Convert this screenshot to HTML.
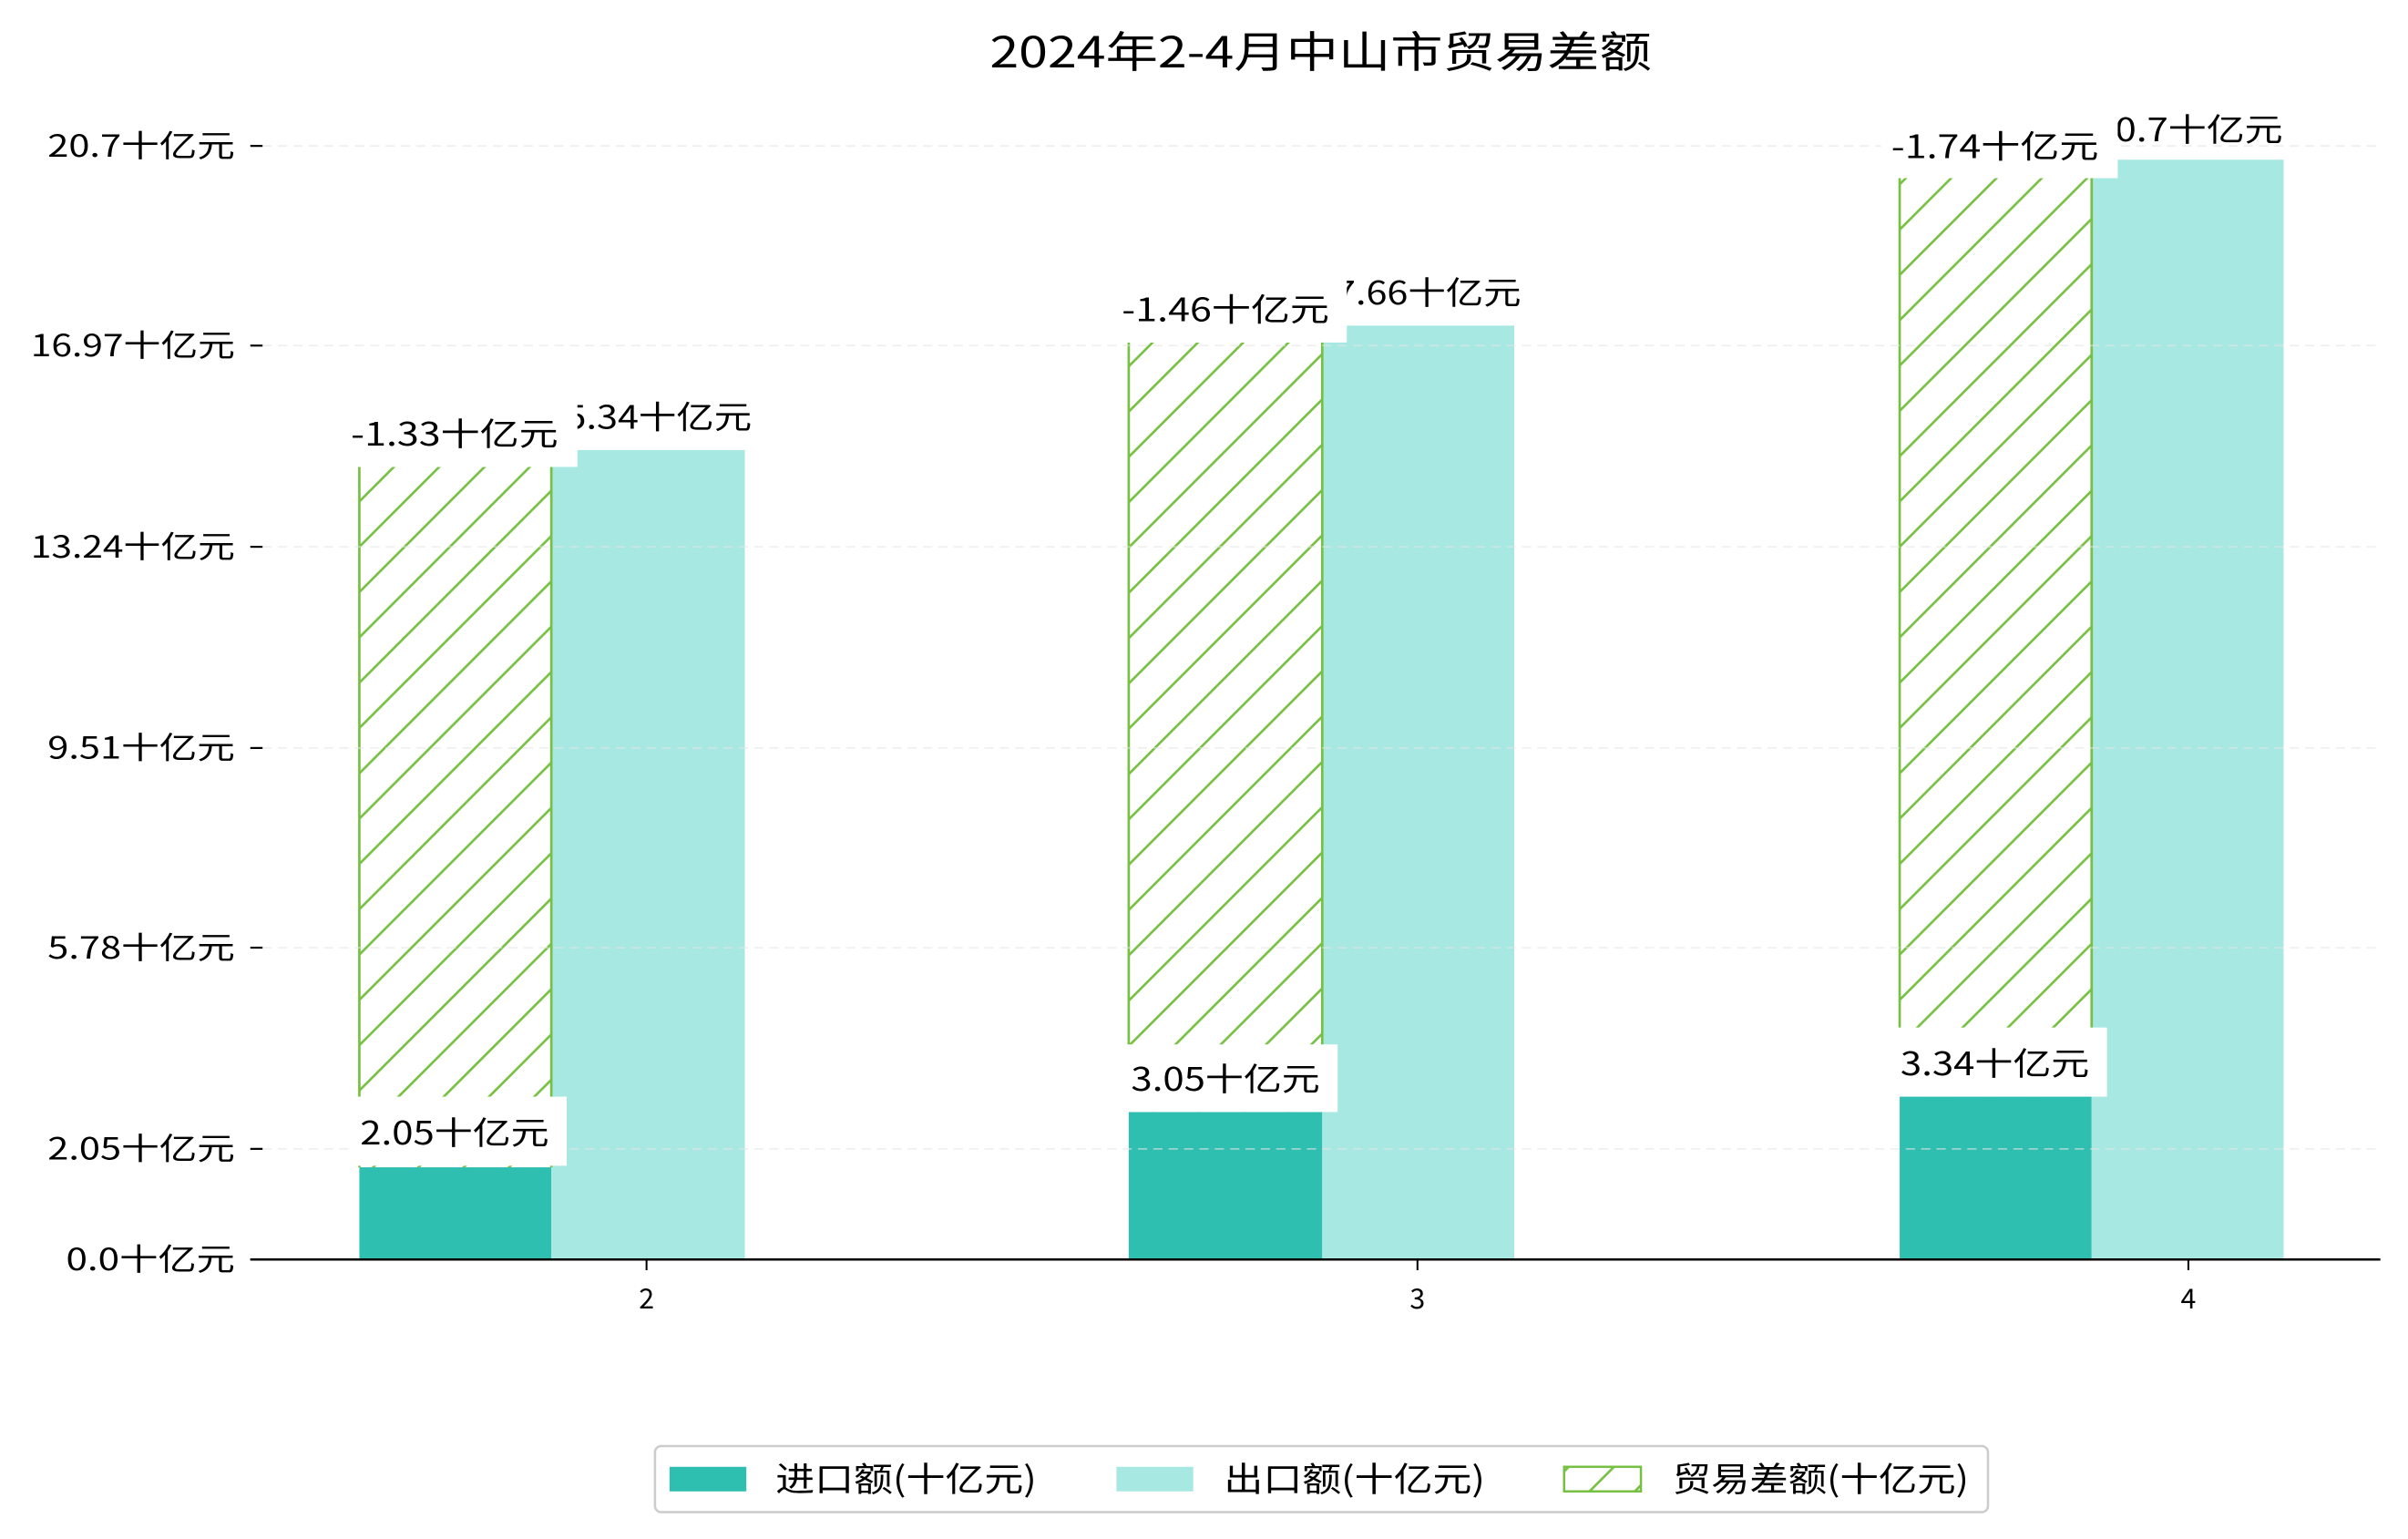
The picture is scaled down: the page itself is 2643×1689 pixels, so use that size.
<!DOCTYPE html>
<html><head><meta charset="utf-8"><style>
html,body{margin:0;padding:0;background:#fff}
svg{display:block}
text{font-family:"WenQuanYi Zen Hei","Noto Sans CJK SC",sans-serif;fill:#000}
</style></head><body>
<svg width="2643" height="1689" viewBox="0 0 1568 1002" preserveAspectRatio="none" xmlns="http://www.w3.org/2000/svg">
<defs>
<pattern id="h" patternUnits="userSpaceOnUse" width="29.5" height="29.5">
<path d="M-7,7 L7,-7 M0,29.5 L29.5,0 M22.5,36.5 L36.5,22.5" stroke="#77c043" stroke-width="1.6"/>
</pattern>
</defs>
<rect width="1568" height="1002" fill="#fff"/>
<text x="860" y="44" font-size="28" text-anchor="middle" textLength="431" lengthAdjust="spacingAndGlyphs">2024年2-4月中山市贸易差额</text>
<g stroke="#000" stroke-width="1.3">
<line x1="163" y1="95" x2="171" y2="95"/>
<line x1="163" y1="225" x2="171" y2="225"/>
<line x1="163" y1="356" x2="171" y2="356"/>
<line x1="163" y1="487" x2="171" y2="487"/>
<line x1="163" y1="617" x2="171" y2="617"/>
<line x1="163" y1="748" x2="171" y2="748"/>
<line x1="163" y1="820" x2="171" y2="820"/>
</g>
<g font-size="20" text-anchor="end">
<text x="153" y="102" textLength="122" lengthAdjust="spacingAndGlyphs">20.7十亿元</text>
<text x="153" y="232" textLength="133" lengthAdjust="spacingAndGlyphs">16.97十亿元</text>
<text x="153" y="363" textLength="133" lengthAdjust="spacingAndGlyphs">13.24十亿元</text>
<text x="153" y="494" textLength="122" lengthAdjust="spacingAndGlyphs">9.51十亿元</text>
<text x="153" y="624" textLength="122" lengthAdjust="spacingAndGlyphs">5.78十亿元</text>
<text x="153" y="755" textLength="122" lengthAdjust="spacingAndGlyphs">2.05十亿元</text>
<text x="153" y="827" textLength="110" lengthAdjust="spacingAndGlyphs">0.0十亿元</text>
</g>
<rect x="234" y="760" width="125" height="60" fill="#2fbfb1"/>
<rect x="359" y="293" width="126" height="527" fill="#a8e8e2"/>
<rect x="234" y="304" width="125" height="456" fill="url(#h)"/>
<line x1="234" y1="304" x2="234" y2="760" stroke="#77c043" stroke-width="1.6"/>
<line x1="359" y1="304" x2="359" y2="760" stroke="#77c043" stroke-width="1.6"/>
<rect x="735" y="724" width="126" height="96" fill="#2fbfb1"/>
<rect x="861" y="212" width="125" height="608" fill="#a8e8e2"/>
<rect x="735" y="223" width="126" height="501" fill="url(#h)"/>
<line x1="735" y1="223" x2="735" y2="724" stroke="#77c043" stroke-width="1.6"/>
<line x1="861" y1="223" x2="861" y2="724" stroke="#77c043" stroke-width="1.6"/>
<rect x="1237" y="714" width="125" height="106" fill="#2fbfb1"/>
<rect x="1362" y="104" width="125" height="716" fill="#a8e8e2"/>
<rect x="1237" y="116" width="125" height="598" fill="url(#h)"/>
<line x1="1237" y1="116" x2="1237" y2="714" stroke="#77c043" stroke-width="1.6"/>
<line x1="1362" y1="116" x2="1362" y2="714" stroke="#77c043" stroke-width="1.6"/>
<g stroke="#e4e4e4" stroke-opacity="0.6" stroke-width="1" stroke-dasharray="6,4">
<line x1="171" y1="95" x2="1550" y2="95"/>
<line x1="171" y1="225" x2="1550" y2="225"/>
<line x1="171" y1="356" x2="1550" y2="356"/>
<line x1="171" y1="487" x2="1550" y2="487"/>
<line x1="171" y1="617" x2="1550" y2="617"/>
<line x1="171" y1="748" x2="1550" y2="748"/>
</g>
<g font-size="21" text-anchor="middle">
<text x="422" y="279" textLength="135" lengthAdjust="spacingAndGlyphs">15.34十亿元</text>
<rect x="224" y="260" width="152" height="44" fill="#fff"/>
<text x="296" y="290" textLength="135" lengthAdjust="spacingAndGlyphs">-1.33十亿元</text>
<rect x="229" y="714" width="140" height="45" fill="#fff"/>
<text x="296" y="745" textLength="123" lengthAdjust="spacingAndGlyphs">2.05十亿元</text>
<text x="923" y="198" textLength="135" lengthAdjust="spacingAndGlyphs">17.66十亿元</text>
<rect x="725" y="178" width="152" height="45" fill="#fff"/>
<text x="798" y="209" textLength="135" lengthAdjust="spacingAndGlyphs">-1.46十亿元</text>
<rect x="729" y="680" width="142" height="44" fill="#fff"/>
<text x="798" y="710" textLength="123" lengthAdjust="spacingAndGlyphs">3.05十亿元</text>
<text x="1425" y="92" textLength="123" lengthAdjust="spacingAndGlyphs">20.7十亿元</text>
<rect x="1225" y="71" width="154" height="45" fill="#fff"/>
<text x="1299" y="103" textLength="135" lengthAdjust="spacingAndGlyphs">-1.74十亿元</text>
<rect x="1229" y="669" width="143" height="45" fill="#fff"/>
<text x="1299" y="700" textLength="123" lengthAdjust="spacingAndGlyphs">3.34十亿元</text>
</g>
<line x1="163" y1="820" x2="1550" y2="820" stroke="#000" stroke-width="1.5"/>
<g stroke="#000" stroke-width="1.2">
<line x1="421" y1="820" x2="421" y2="827"/>
<line x1="923" y1="820" x2="923" y2="827"/>
<line x1="1425" y1="820" x2="1425" y2="827"/>
</g>
<g font-size="18" text-anchor="middle">
<text x="421" y="852">2</text>
<text x="923" y="852">3</text>
<text x="1425" y="852">4</text>
</g>
<rect x="426.5" y="941.5" width="868" height="43" rx="4" fill="#fff" stroke="#ccc" stroke-width="1.5"/>
<rect x="436" y="955" width="50" height="16" fill="#2fbfb1"/>
<rect x="727" y="955" width="50" height="16" fill="#a8e8e2"/>
<rect x="1018.5" y="955" width="50" height="16" fill="url(#h)" stroke="#77c043" stroke-width="1.5"/>
<g font-size="22">
<text x="505" y="971" textLength="170" lengthAdjust="spacingAndGlyphs">进口额(十亿元)</text>
<text x="797" y="971" textLength="170" lengthAdjust="spacingAndGlyphs">出口额(十亿元)</text>
<text x="1089" y="971" textLength="193" lengthAdjust="spacingAndGlyphs">贸易差额(十亿元)</text>
</g>
</svg>
</body></html>
